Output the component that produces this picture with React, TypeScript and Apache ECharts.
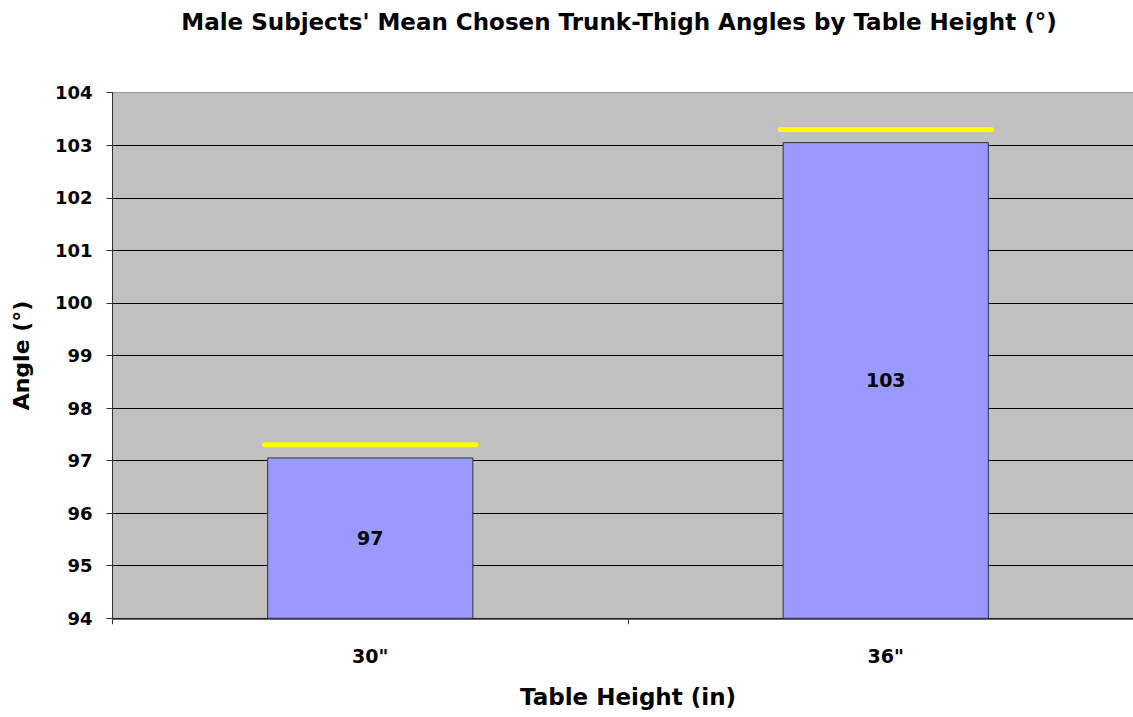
import React, { useEffect, useRef } from "react";
import * as echarts from "echarts";

const categories = ['30"', '36"'];
const meanAngles = [97.06, 103.06];
const markerLevels = [97.3, 103.3];
const yTicks = { min: 94, max: 104, interval: 1 };

export default function App() {
  const ref = useRef<HTMLDivElement>(null);
  useEffect(() => {
    if (!ref.current) return;
    const chart = echarts.init(ref.current, null, { renderer: "svg" });
    const font = "'DejaVu Sans', Arial, sans-serif";
    const nLines = (yTicks.max - yTicks.min) / yTicks.interval + 1;
    const splitColors = Array.from({ length: nLines }, (_, i) => (i === nLines - 1 ? "#a0a0a0" : "#000000"));
    chart.setOption({
      animation: false,
      backgroundColor: "#ffffff",
      title: {
        text: "Male Subjects' Mean Chosen Trunk-Thigh Angles by Table Height (°)",
        left: 614,
        top: 5,
        textAlign: "center",
        textStyle: { fontFamily: font, fontWeight: "bold", fontSize: 23, color: "#000" },
      },
      grid: {
        left: 112.5,
        top: 92.7,
        width: 1031,
        height: 525.6,
        show: true,
        backgroundColor: "#c0c0c0",
        borderColor: "#a0a0a0",
        borderWidth: 1,
        containLabel: false,
      },
      xAxis: {
        type: "category",
        data: categories,
        name: "Table Height (in)",
        nameLocation: "middle",
        nameGap: 67,
        nameTextStyle: { fontFamily: font, fontWeight: "bold", fontSize: 23, color: "#000" },
        axisLine: { lineStyle: { color: "#333", width: 1.5 } },
        axisTick: { show: true, length: 6, lineStyle: { color: "#333" } },
        axisLabel: { fontFamily: font, fontWeight: "bold", fontSize: 19, color: "#000", margin: 28 },
      },
      yAxis: {
        type: "value",
        min: yTicks.min,
        max: yTicks.max,
        interval: yTicks.interval,
        name: "Angle (°)",
        nameLocation: "middle",
        nameGap: 80,
        nameRotate: 90,
        nameTextStyle: { fontFamily: font, fontWeight: "bold", fontSize: 22, color: "#000" },
        axisLine: { show: true, lineStyle: { color: "#333", width: 1 } },
        axisTick: { show: true, length: 6, lineStyle: { color: "#333" } },
        axisLabel: { fontFamily: font, fontWeight: "bold", fontSize: 18, color: "#000", margin: 20 },
        splitLine: { show: true, lineStyle: { color: splitColors, width: 1 } },
      },
      series: [
        {
          type: "bar",
          data: meanAngles,
          barWidth: "40%",
          itemStyle: { color: "#9999ff", borderColor: "#333", borderWidth: 1 },
          label: {
            show: true,
            position: "inside",
            formatter: (p: any) => String(Math.round(p.value)),
            fontFamily: font,
            fontWeight: "bold",
            fontSize: 19,
            color: "#000",
          },
          z: 2,
        },
        {
          type: "custom",
          data: markerLevels.map((v, i) => [i, v]),
          renderItem: (params: any, api: any) => {
            const p = api.coord([api.value(0), api.value(1)]);
            const w = api.size([1, 0])[0] * 0.41;
            return {
              type: "line",
              shape: { x1: p[0] - w / 2, y1: p[1], x2: p[0] + w / 2, y2: p[1] },
              style: { stroke: "#ffff00", lineWidth: 5, lineCap: "round" },
            };
          },
          z: 3,
        },
      ],
    });
    return () => chart.dispose();
  }, []);
  return (
    <div style={{ position: "fixed", left: 0, top: 0, width: 1133, height: 717, overflow: "hidden" }}>
      <div ref={ref} style={{ width: 1160, height: 717 }} />
    </div>
  );
}
